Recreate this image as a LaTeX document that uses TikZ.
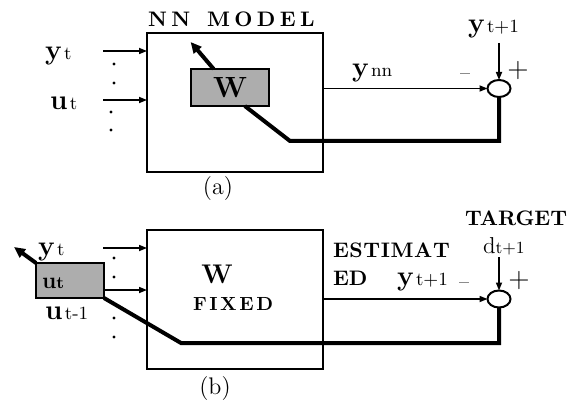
\documentclass[tikz,border=0pt]{standalone}
\usepackage{fontspec}
\usetikzlibrary{arrows.meta,shapes.geometric,calc}
\newcommand\varlab[2]{{\fontsize{14}{14}\selectfont\bfseries #1}\hspace{1.2pt}{\fontsize{9.3}{10}\selectfont #2}}
\newcommand\capsfont{\fontsize{10.5}{12}\selectfont\bfseries}
\def\lspkern{0pt}
\newcommand\lsp[2]{\def\lspkern{#1}\lspgo#2\relax}
\def\lspgo#1{\ifx#1\relax\else#1\kern\lspkern\expandafter\lspgo\fi}
\begin{document}
\begin{tikzpicture}[x=0.5pt,y=-0.5pt,
  mainbox/.style={draw,line width=1pt,inner sep=0,outer sep=0,minimum width=88pt,minimum height=69.5pt},
  graybox/.style={draw,line width=0.9pt,fill=black!32,inner sep=0,outer sep=0},
  sumnode/.style={ellipse,draw,line width=1pt,minimum width=11.5pt,minimum height=8.5pt,inner sep=0,outer sep=0},
  inarrow/.style={line width=0.8pt,-{Triangle[length=4pt,width=3pt]}},
  fat/.style={line width=2pt},
  fatarrow/.style={line width=2pt,-{Triangle[length=5.5pt,width=5pt]}},
  lbl/.style={inner sep=0,outer sep=0},
  dotstyle/.style={radius=0.8pt}
]
\useasboundingbox (0,0) rectangle (578,401);
% ---------------- panel (a)
\node[mainbox] (boxA) at (235,102.5) {};
\node[graybox,minimum width=39pt,minimum height=18.5pt] (wA) at (230,87.5) {};
\node[lbl] (wAtxt) at (wA.center) {\fontsize{14.6}{15}\selectfont\bfseries W};
\node[sumnode] (circA) at (499,88.5) {};
\node[lbl,anchor=base west] (titleA) at (148,27) {\capsfont\lsp{2.2pt}{NN\ MODEL}};
\node[lbl,anchor=base west] (ytA) at (45,60) {\varlab{y}{t}};
\node[lbl,anchor=base west] (utA) at (50,110) {\varlab{u}{t}};
\node[lbl,anchor=base west] (ynn) at (352,76) {\varlab{y}{nn}};
\node[lbl,anchor=base west] (ytpA) at (468,33) {\varlab{y}{t+1}};
\node[lbl] (minA) at (465,77) {\fontsize{10}{10}\selectfont –};
\node[lbl] (plusA) at (518,71) {\fontsize{14}{14}\selectfont +};
\node[lbl] (capA) at (218,189) {\fontsize{12}{12}\selectfont (a)};
\coordinate (inA1) at (103,51);
\coordinate (inA2) at (103,100);
\draw[inarrow] (inA1) -- (inA1 -| boxA.west);
\draw[inarrow] (inA2) -- (inA2 -| boxA.west);
\fill[dotstyle] (114,64) circle;
\fill[dotstyle] (114,83) circle;
\fill[dotstyle] (111,112) circle;
\fill[dotstyle] (111,130) circle;
\draw[inarrow] (circA.west -| boxA.east) -- (circA.west);
\coordinate (topA) at (499,43);
\draw[inarrow] (topA) -- (circA.north);
\coordinate (wAup) at ($(wA.north west)!0.29!(wA.north east)$);
\draw[fatarrow] (wAup) -- ++(-23,-27);
\coordinate (wAdn) at ($(wA.south west)!0.69!(wA.south east)$);
\coordinate (kneeA) at (290,141);
\draw[fat] (wAdn) -- (kneeA) -- (kneeA -| circA.south) -- (circA.south);
% ---------------- panel (b)
\node[mainbox] (boxB) at (235,299.5) {};
\node[graybox,minimum width=34pt,minimum height=17.5pt] (gB) at (70,280.5) {};
\node[sumnode] (circB) at (499,299) {};
\node[lbl,anchor=base] (wB) at (217,283) {\fontsize{13.5}{14}\selectfont\bfseries W};
\node[lbl,anchor=base west] (fixed) at (193,310) {\fontsize{9.5}{10}\selectfont\bfseries\lsp{1.3pt}{FIXED}};
\node[lbl,anchor=base west] (ytB) at (38,255) {\varlab{y}{t}};
\node[lbl,anchor=base west] (utB) at (42,288) {{\fontsize{11.5}{12}\selectfont\bfseries u}{\fontsize{8.5}{8}\selectfont\bfseries t}};
\node[lbl,anchor=base west] (utm) at (45,319) {\varlab{u}{t-1}};
\node[lbl,anchor=base west] (estim) at (333,257) {\capsfont\lsp{0.3pt}{ESTIMAT}};
\node[lbl,anchor=base west] (ed) at (333,285) {\capsfont ED};
\node[lbl,anchor=base west] (ytpB) at (397,285) {\varlab{y}{t+1}};
\node[lbl,anchor=base west] (dtp) at (483,253) {{\fontsize{11.5}{12}\selectfont d}{\fontsize{8.5}{9}\selectfont t+1}};
\node[lbl,anchor=base west] (target) at (465,225) {\capsfont TARGET};
\node[lbl] (minB) at (464,286) {\fontsize{10}{10}\selectfont –};
\node[lbl] (plusB) at (519,281) {\fontsize{14}{14}\selectfont +};
\node[lbl] (capB) at (215,389) {\fontsize{12}{12}\selectfont (b)};
\coordinate (inB1) at (103,248);
\coordinate (inB2) at (104,290);
\draw[inarrow] (inB1) -- (inB1 -| boxB.west);
\draw[inarrow] (inB2) -- (inB2 -| boxB.west);
\fill[dotstyle] (114,258) circle;
\fill[dotstyle] (114,277) circle;
\fill[dotstyle] (114,318) circle;
\fill[dotstyle] (114,337) circle;
\draw[inarrow] (circB.west -| boxB.east) -- (circB.west);
\coordinate (topB) at (499,257);
\draw[inarrow] (topB) -- (circB.north);
\draw[fatarrow] (gB.north west) -- ++(-22,-16);
\coordinate (kneeB) at (181,343);
\draw[fat] (gB.south east) -- (kneeB) -- (kneeB -| circB.south) -- (circB.south);
\end{tikzpicture}
\end{document}
